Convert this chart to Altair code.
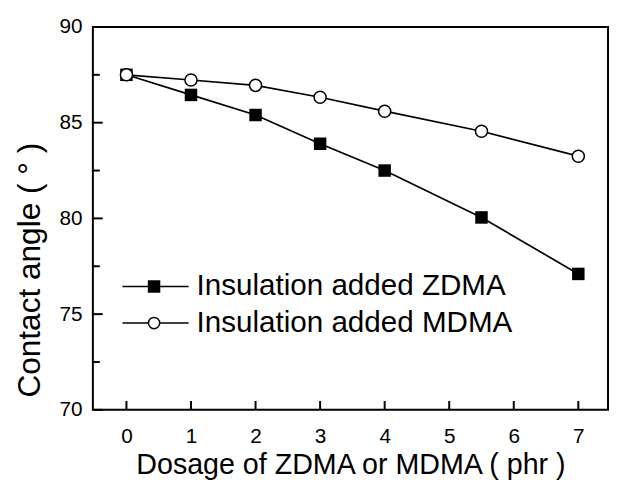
import altair as alt
import pandas as pd

# ---- data ----
dosage = [0, 1, 2, 3, 4, 5.5, 7]
zdma = [87.5, 86.45, 85.4, 83.9, 82.5, 80.05, 77.1]
mdma = [87.5, 87.23, 86.95, 86.33, 85.6, 84.55, 83.25]
x_ticks = [0, 1, 2, 3, 4, 5, 6, 7]
y_major = [70, 75, 80, 85, 90]
y_minor = [72.5, 77.5, 82.5, 87.5]
legend_labels = ["Insulation added ZDMA", "Insulation added MDMA"]

W, H = 522, 388
FONT = "Liberation Sans"

df_z = pd.DataFrame({"dosage": dosage, "angle": zdma})
df_m = pd.DataFrame({"dosage": dosage, "angle": mdma})

xs = alt.Scale(domain=[-0.52, 7.46], nice=False, zero=False)
ys = alt.Scale(domain=[70, 90], nice=False, zero=False)

x_axis = alt.Axis(values=x_ticks, title="Dosage of ZDMA or MDMA ( phr )",
                  domain=False, ticks=False, tickSize=0, grid=False,
                  labelFont=FONT, labelFontSize=21, labelColor="black",
                  labelPadding=16, titleFont=FONT, titleFontSize=29,
                  titleFontWeight="normal", titleColor="black",
                  titleY=65, titleBaseline="alphabetic")
y_axis = alt.Axis(values=y_major, title="Contact angle (  °  )",
                  domain=False, ticks=False, tickSize=0, grid=False,
                  labelFont=FONT, labelFontSize=21, labelColor="black",
                  labelPadding=11, titleFont=FONT, titleFontSize=32,
                  titleFontWeight="normal", titleColor="black",
                  titleX=-54, titleY=246, titleAngle=270,
                  titleAlign="center", titleBaseline="alphabetic")


def X(field):
    return alt.X(field, scale=xs, axis=x_axis)


def Y(field):
    return alt.Y(field, scale=ys, axis=y_axis)


line_z = alt.Chart(df_z).mark_line(color="black", strokeWidth=1.7).encode(
    x=X("dosage:Q"), y=Y("angle:Q"))
line_m = alt.Chart(df_m).mark_line(color="black", strokeWidth=1.7).encode(
    x=X("dosage:Q"), y=Y("angle:Q"))
pts_z = alt.Chart(df_z).mark_point(shape="square", filled=True, color="black",
                                   size=160, opacity=1).encode(
    x=X("dosage:Q"), y=Y("angle:Q"))
pts_m = alt.Chart(df_m).mark_point(shape="circle", filled=True, fill="white",
                                   stroke="black", strokeWidth=1.5,
                                   size=150, opacity=1).encode(
    x=X("dosage:Q"), y=Y("angle:Q"))

# inward ticks
yt_major = alt.Chart(pd.DataFrame({"angle": y_major})).mark_rule(
    color="black", strokeWidth=2).encode(
    y=Y("angle:Q"), x=alt.value(0), x2=alt.value(10))
yt_minor = alt.Chart(pd.DataFrame({"angle": y_minor})).mark_rule(
    color="black", strokeWidth=2).encode(
    y=Y("angle:Q"), x=alt.value(0), x2=alt.value(7))
xt = alt.Chart(pd.DataFrame({"dosage": x_ticks})).mark_rule(
    color="black", strokeWidth=2).encode(
    x=X("dosage:Q"), y=alt.value(H), y2=alt.value(H - 9))

# custom legend
leg_layers = []
rows_y = [263, 300]
for i, lab in enumerate(legend_labels):
    d = pd.DataFrame({"label": [lab]})
    ry = rows_y[i]
    leg_layers.append(alt.Chart(d).mark_rule(color="black", strokeWidth=1.7).encode(
        x=alt.value(30), x2=alt.value(97), y=alt.value(ry)))
    if i == 0:
        leg_layers.append(alt.Chart(d).mark_point(
            shape="square", filled=True, color="black", size=160, opacity=1).encode(
            x=alt.value(62), y=alt.value(ry)))
    else:
        leg_layers.append(alt.Chart(d).mark_point(
            shape="circle", filled=True, fill="white", stroke="black",
            strokeWidth=1.5, size=130, opacity=1).encode(
            x=alt.value(62), y=alt.value(ry)))
    leg_layers.append(alt.Chart(d).mark_text(
        align="left", baseline="middle", font=FONT, fontSize=30,
        color="black").encode(
        x=alt.value(105), y=alt.value(ry), text="label:N"))

chart = alt.layer(line_z, line_m, pts_z, pts_m, yt_major, yt_minor, xt,
                  *leg_layers).properties(
    width=W, height=H,
    autosize=alt.AutoSizeParams(type="none"),
    padding={"left": 86, "top": 16, "right": 1, "bottom": 78},
    background="white",
).configure_view(stroke="black", strokeWidth=2)

chart.save("out.html", embed_options={"renderer": "svg", "actions": False})
